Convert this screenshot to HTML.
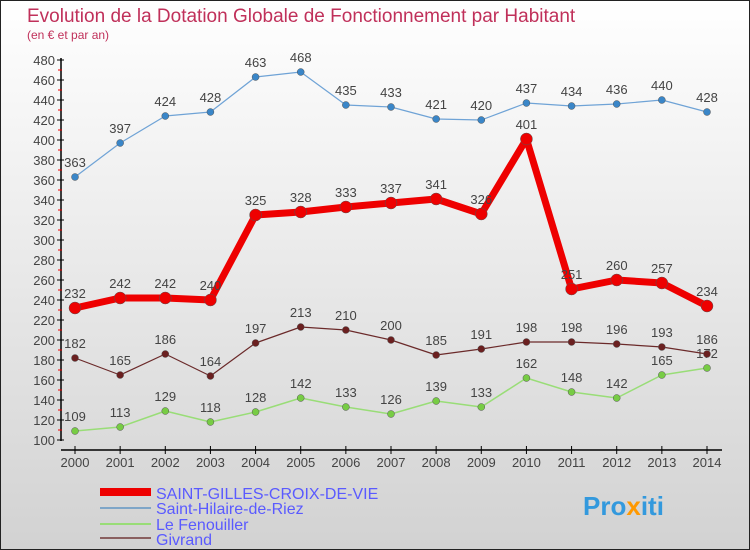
<!DOCTYPE html>
<html><head><meta charset="utf-8"><style>
body{margin:0}
#wrap{width:750px;height:550px;position:relative;font-family:"Liberation Sans",sans-serif;overflow:hidden}
svg text{font-family:"Liberation Sans",sans-serif}
</style></head><body>
<div id="wrap">
<svg id="svg" width="750" height="550" xmlns="http://www.w3.org/2000/svg">
<defs><linearGradient id="bg" x1="0" y1="0" x2="0" y2="1"><stop offset="0" stop-color="#ffffff"/><stop offset="1" stop-color="#d2d2d2"/></linearGradient></defs>
<rect x="0.5" y="0.5" width="749" height="549" fill="url(#bg)" stroke="#222"/>
<text x="27" y="22" font-size="19" fill="#c0305a">Evolution de la Dotation Globale de Fonctionnement par Habitant</text>
<text x="27" y="39" font-size="12" fill="#c0305a">(en € et par an)</text>
<g id="axes"></g><g id="series"></g>
<g>
<rect x="100" y="488" width="51" height="8" fill="#ee0000"/>
<text x="156" y="499" font-size="16" fill="#5a5aff">SAINT-GILLES-CROIX-DE-VIE</text>
<rect x="100" y="507" width="51" height="2" fill="#7fa6c8"/>
<text x="156" y="514" font-size="16" fill="#5a5aff">Saint-Hilaire-de-Riez</text>
<rect x="100" y="523" width="51" height="2" fill="#99dd77"/>
<text x="156" y="530" font-size="16" fill="#5a5aff">Le Fenouiller</text>
<rect x="100" y="537" width="51" height="2" fill="#8a6060"/>
<text x="156" y="545" font-size="16" fill="#5a5aff">Givrand</text>
</g>
<text x="583" y="515" font-size="26" font-weight="bold" fill="#3399dd">Pro<tspan fill="#ff9900">x</tspan>iti</text>
</svg></div>
<script>
const years=[2000,2001,2002,2003,2004,2005,2006,2007,2008,2009,2010,2011,2012,2013,2014];
const yTicks=[100,120,140,160,180,200,220,240,260,280,300,320,340,360,380,400,420,440,460,480];
const saintGilles=[232,242,242,240,325,328,333,337,341,326,401,251,260,257,234];
const saintHilaire=[363,397,424,428,463,468,435,433,421,420,437,434,436,440,428];
const leFenouiller=[109,113,129,118,128,142,133,126,139,133,162,148,142,165,172];
const givrand=[182,165,186,164,197,213,210,200,185,191,198,198,196,193,186];
const NS="http://www.w3.org/2000/svg";
const xS=i=>75+i*(632/14);
const yS=v=>540-v;
function mk(t,a,p){const e=document.createElementNS(NS,t);for(const k in a)e.setAttribute(k,a[k]);p.appendChild(e);return e;}
const ax=document.getElementById('axes');
const yl=mk('line',{x1:61,y1:58,x2:61,y2:441,stroke:'#000','stroke-width':1.5},ax);


const xl=mk('line',{x1:61,y1:450,x2:722,y2:450,stroke:'#000','stroke-width':1.5},ax);


yTicks.forEach(v=>{
  mk('line',{x1:57,y1:yS(v),x2:64,y2:yS(v),stroke:'#000'},ax);
  if(v<480)mk('line',{x1:58,y1:yS(v+10),x2:62,y2:yS(v+10),stroke:'#e00'},ax);
  const t=mk('text',{x:55,y:yS(v)+5,'font-size':13,fill:'#444','text-anchor':'end'},ax);
  t.textContent=v;
  
  
});
years.forEach((y,i)=>{
  mk('line',{x1:xS(i),y1:446,x2:xS(i),y2:454,stroke:'#000'},ax);
  const t=mk('text',{x:xS(i),y:467,'font-size':13,fill:'#444','text-anchor':'middle'},ax);
  t.textContent=y;
  
  
});
const sg=document.getElementById('series');
function draw(vals,color,w,r,name,dot){
  const g=mk('g',{},sg);
  
  
  const pts=vals.map((v,i)=>xS(i)+','+yS(v)).join(' ');
  mk('polyline',{points:pts,fill:'none',stroke:color,'stroke-width':w,'stroke-linejoin':'round'},g);
  vals.forEach((v,i)=>{
    const c=mk('circle',{cx:xS(i),cy:yS(v),r:r,fill:dot,stroke:'#555','stroke-width':0.5},g);
    
    
    const t=mk('text',{x:xS(i),y:yS(v)-10,'font-size':13,fill:'#444','text-anchor':'middle'},g);
    t.textContent=v;
    
    
  });
}
draw(saintHilaire,'#6fa3d6',1.2,3.5,'series-saint-hilaire','#3a86c8');
draw(leFenouiller,'#99dd77',1.5,3.5,'series-le-fenouiller','#77cc44');
draw(givrand,'#6b2a2a',1.2,3.5,'series-givrand','#6b2020');
draw(saintGilles,'#ee0000',7,6,'series-saint-gilles','#ee0000');
</script>
</body></html>
